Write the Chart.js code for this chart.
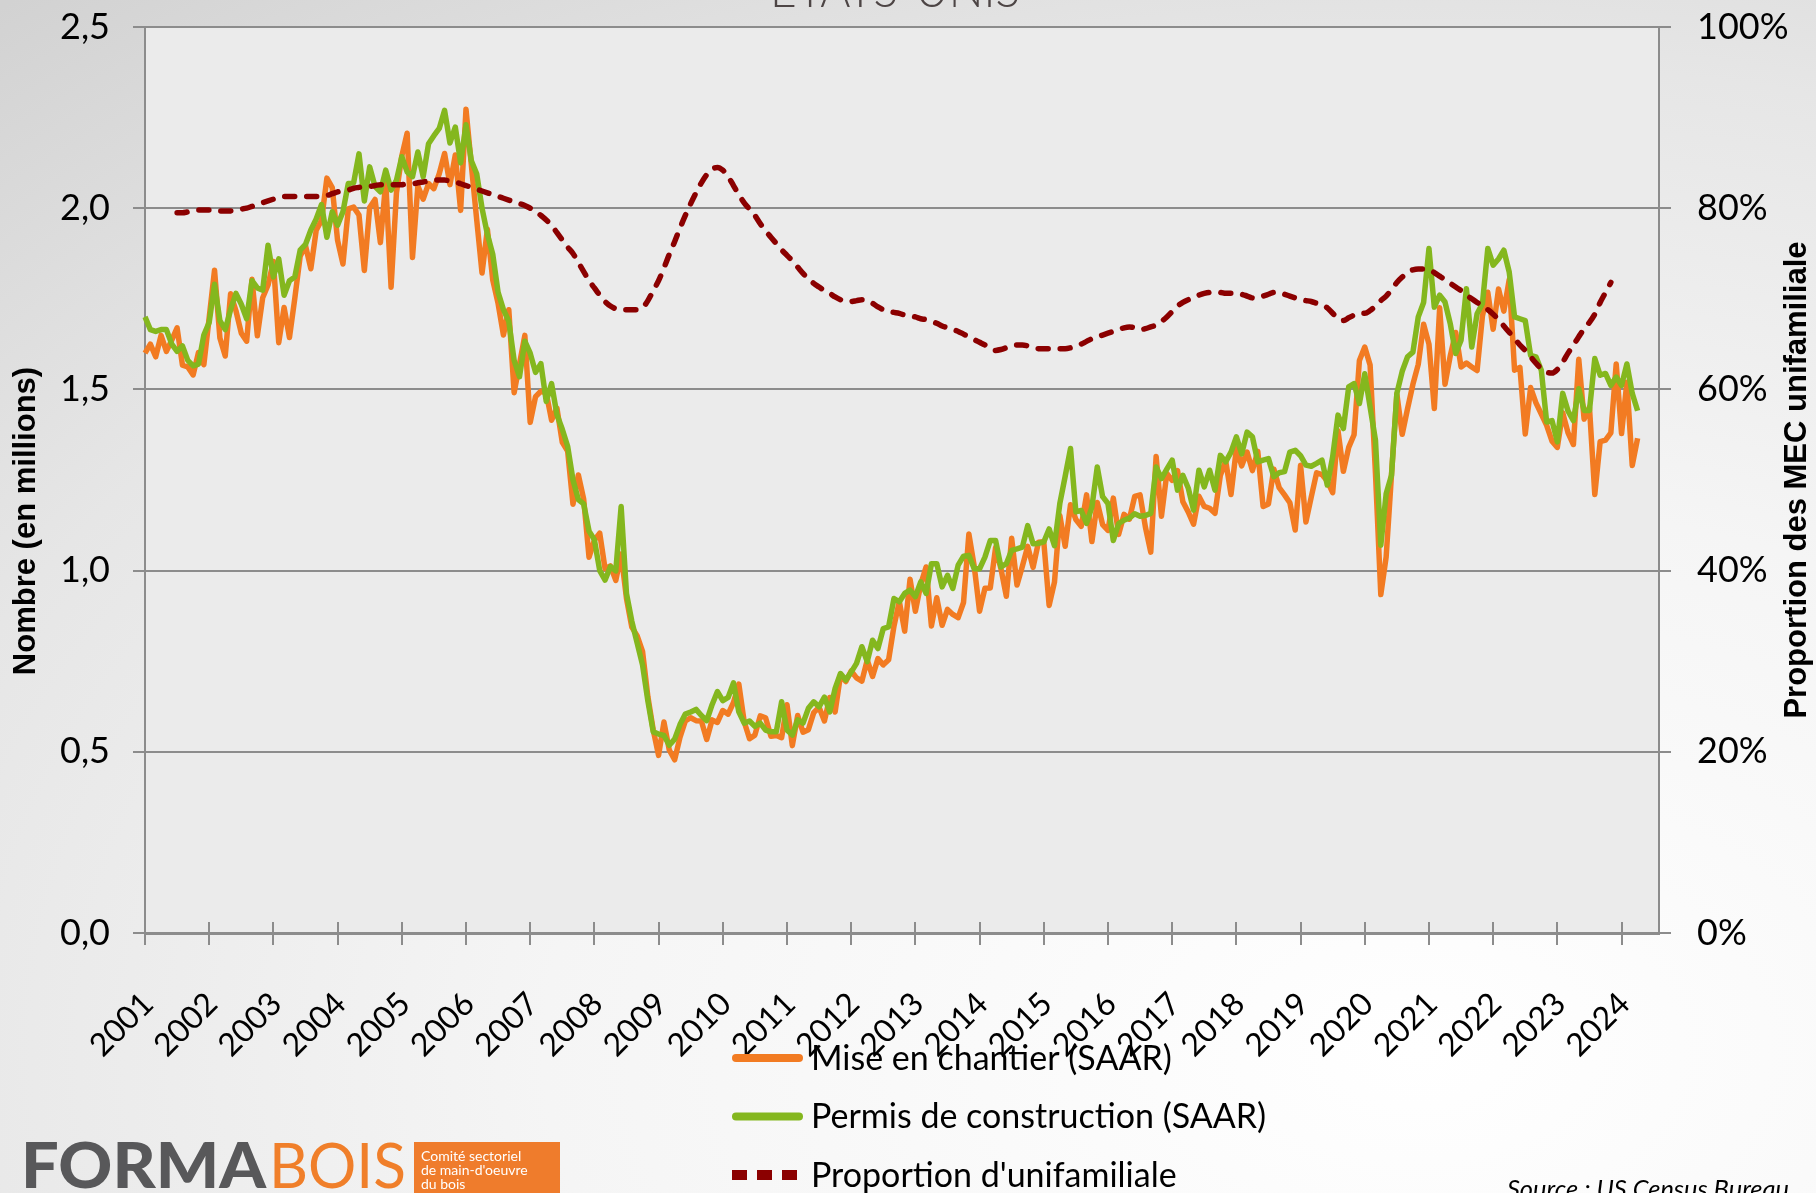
<!DOCTYPE html>
<html lang="fr">
<head>
<meta charset="UTF-8">
<title>États-Unis : mises en chantier et permis de construction</title>
<script src="https://cdn.jsdelivr.net/npm/chart.js"></script>
<style>
  html, body { margin: 0; padding: 0; overflow: hidden; }
  body {
    width: 1816px; height: 1193px;
    background: radial-gradient(ellipse 120% 115% at 78% 88%, #ffffff 0%, #f5f5f5 40%, #e6e6e6 72%, #d2d2d2 100%);
  }
  #chart { display: block; }
</style>
</head>
<body>
<canvas id="chart" width="1816" height="1193"></canvas>
<script>
// tick labels (one per year) - the axis runs from Jan 2001 to Aug 2024
const years = ['2001','2002','2003','2004','2005','2006','2007','2008','2009','2010','2011','2012',
               '2013','2014','2015','2016','2017','2018','2019','2020','2021','2022','2023','2024'];
const monthsOnAxis = 284;

// Mises en chantier, millions, SAAR (Jan 2001 - Apr 2024)
const starts = [
  1.600,1.625,1.590,1.649,1.605,1.636,1.670,1.567,1.562,1.540,1.602,1.568,
  1.698,1.829,1.642,1.592,1.764,1.717,1.655,1.633,1.804,1.648,1.753,1.788,
  1.853,1.629,1.726,1.643,1.751,1.867,1.897,1.833,1.939,1.967,2.083,2.057,
  1.911,1.846,1.998,2.003,1.981,1.828,2.002,2.024,1.905,2.072,1.782,2.042,
  2.144,2.207,1.864,2.061,2.025,2.068,2.054,2.095,2.151,2.065,2.147,1.994,
  2.273,2.119,1.969,1.821,1.942,1.802,1.737,1.650,1.720,1.491,1.570,1.649,
  1.409,1.480,1.495,1.490,1.415,1.448,1.354,1.330,1.183,1.264,1.197,1.037,
  1.084,1.103,1.005,1.013,0.973,1.046,0.923,0.844,0.820,0.777,0.652,0.560,
  0.490,0.582,0.505,0.478,0.540,0.585,0.594,0.586,0.585,0.534,0.588,0.581,
  0.614,0.604,0.636,0.687,0.583,0.536,0.546,0.599,0.594,0.543,0.545,0.539,
  0.630,0.517,0.600,0.554,0.561,0.608,0.623,0.585,0.650,0.610,0.711,0.694,
  0.723,0.704,0.695,0.753,0.708,0.757,0.740,0.754,0.847,0.915,0.833,0.976,
  0.888,0.962,1.010,0.847,0.925,0.849,0.893,0.879,0.870,0.912,1.101,1.012,
  0.888,0.951,0.952,1.064,1.005,0.929,1.089,0.960,1.012,1.067,1.009,1.078,
  1.080,0.904,0.968,1.152,1.067,1.182,1.141,1.122,1.209,1.080,1.188,1.127,
  1.111,1.200,1.100,1.155,1.142,1.205,1.209,1.120,1.051,1.315,1.150,1.268,
  1.249,1.276,1.190,1.162,1.128,1.205,1.177,1.172,1.158,1.262,1.303,1.210,
  1.336,1.289,1.327,1.276,1.329,1.177,1.184,1.280,1.229,1.209,1.187,1.112,
  1.291,1.134,1.203,1.270,1.265,1.247,1.215,1.386,1.274,1.340,1.375,1.580,
  1.617,1.567,1.269,0.934,1.038,1.265,1.487,1.376,1.447,1.514,1.569,1.680,
  1.625,1.447,1.725,1.514,1.594,1.657,1.562,1.573,1.562,1.552,1.703,1.768,
  1.666,1.777,1.716,1.803,1.553,1.561,1.377,1.505,1.463,1.432,1.401,1.357,
  1.340,1.436,1.380,1.348,1.583,1.418,1.451,1.210,1.356,1.360,1.380,1.570,
  1.378,1.520,1.290,1.365
];

// Permis de construction, millions, SAAR (Jan 2001 - Apr 2024)
const permits = [
  1.700,1.665,1.660,1.665,1.665,1.625,1.605,1.620,1.580,1.565,1.570,1.650,
  1.685,1.790,1.690,1.665,1.720,1.765,1.735,1.695,1.800,1.780,1.774,1.898,
  1.810,1.860,1.760,1.800,1.810,1.884,1.900,1.940,1.970,2.010,1.920,1.990,
  1.953,1.990,2.068,2.070,2.150,2.020,2.114,2.060,2.045,2.105,2.050,2.077,
  2.142,2.100,2.087,2.155,2.087,2.178,2.200,2.220,2.270,2.180,2.224,2.125,
  2.230,2.131,2.095,2.000,1.928,1.873,1.768,1.720,1.688,1.580,1.535,1.633,
  1.600,1.547,1.571,1.467,1.516,1.430,1.390,1.343,1.250,1.196,1.184,1.109,
  1.085,1.000,0.974,1.011,0.999,1.177,0.937,0.860,0.800,0.740,0.640,0.555,
  0.549,0.545,0.518,0.535,0.575,0.604,0.610,0.617,0.600,0.586,0.630,0.666,
  0.641,0.650,0.690,0.610,0.579,0.585,0.570,0.579,0.560,0.555,0.555,0.638,
  0.560,0.546,0.588,0.579,0.620,0.638,0.624,0.651,0.610,0.675,0.716,0.698,
  0.720,0.744,0.790,0.749,0.808,0.785,0.840,0.845,0.923,0.914,0.937,0.946,
  0.928,0.969,0.937,1.019,1.019,0.955,0.987,0.951,1.015,1.040,1.042,1.005,
  1.005,1.037,1.083,1.083,1.010,1.019,1.056,1.060,1.065,1.124,1.074,1.075,
  1.079,1.115,1.069,1.185,1.260,1.337,1.162,1.166,1.130,1.176,1.286,1.204,
  1.185,1.083,1.130,1.139,1.145,1.157,1.150,1.152,1.158,1.286,1.254,1.280,
  1.305,1.222,1.263,1.228,1.167,1.277,1.231,1.277,1.222,1.318,1.300,1.327,
  1.369,1.322,1.382,1.369,1.300,1.305,1.309,1.259,1.270,1.273,1.327,1.332,
  1.317,1.291,1.288,1.296,1.305,1.236,1.314,1.429,1.392,1.507,1.516,1.461,
  1.543,1.451,1.360,1.070,1.212,1.263,1.489,1.550,1.590,1.603,1.700,1.740,
  1.889,1.727,1.760,1.741,1.680,1.599,1.636,1.778,1.617,1.709,1.737,1.889,
  1.843,1.860,1.884,1.824,1.700,1.695,1.690,1.594,1.590,1.553,1.410,1.414,
  1.355,1.489,1.440,1.414,1.502,1.442,1.442,1.585,1.539,1.544,1.511,1.534,
  1.511,1.570,1.489,1.441
];

// Proportion d'unifamiliale (%), from Jul 2001 to Nov 2023
const propStart = 6;
const proportion = [
  79.5,79.5,79.6,79.7,79.8,79.8,79.8,79.7,79.7,79.7,79.7,79.8,
  79.9,80.0,80.2,80.4,80.6,80.8,81.0,81.2,81.3,81.3,81.3,81.3,
  81.3,81.3,81.3,81.3,81.4,81.6,81.8,81.9,82.0,82.2,82.3,82.4,
  82.4,82.5,82.6,82.6,82.6,82.6,82.6,82.7,82.7,82.8,82.9,83.0,
  83.1,83.1,83.1,83.0,82.9,82.7,82.5,82.3,82.1,81.9,81.7,81.5,
  81.3,81.1,80.9,80.7,80.5,80.3,80.0,79.7,79.2,78.7,78.1,77.3,
  76.5,75.7,75.0,74.0,73.0,72.0,71.2,70.4,69.7,69.2,68.9,68.8,
  68.8,68.8,68.8,69.0,69.8,70.9,72.0,73.4,74.9,76.3,77.8,79.2,
  80.5,81.7,82.8,83.7,84.3,84.5,84.2,83.5,82.5,81.5,80.6,79.9,
  79.2,78.3,77.5,76.8,76.1,75.4,74.8,74.2,73.5,72.8,72.2,71.7,
  71.3,70.9,70.6,70.2,69.9,69.7,69.7,69.8,69.9,69.8,69.5,69.1,
  68.8,68.6,68.5,68.4,68.2,68.1,68.0,67.8,67.7,67.5,67.3,67.0,
  66.8,66.6,66.4,66.1,65.8,65.5,65.2,64.9,64.5,64.3,64.4,64.6,
  64.8,64.9,64.9,64.8,64.6,64.5,64.5,64.5,64.5,64.5,64.5,64.6,
  64.8,65.0,65.3,65.6,65.8,66.0,66.2,66.4,66.6,66.8,66.9,66.8,
  66.6,66.7,66.9,67.1,67.5,68.0,68.6,69.2,69.6,69.9,70.1,70.4,
  70.6,70.7,70.7,70.7,70.6,70.6,70.6,70.5,70.3,70.1,70.1,70.3,
  70.5,70.7,70.7,70.5,70.3,70.1,69.9,69.8,69.7,69.5,69.3,69.0,
  68.4,67.8,67.6,67.9,68.2,68.4,68.4,68.7,69.2,69.8,70.3,71.0,
  71.8,72.4,72.9,73.2,73.3,73.3,73.2,72.9,72.5,72.1,71.7,71.3,
  70.9,70.4,70.0,69.6,69.2,68.8,68.3,67.7,67.0,66.3,65.6,64.9,
  64.3,63.6,62.9,62.3,61.9,61.8,62.2,63.0,64.0,64.9,65.8,66.7,
  67.4,68.3,69.6,70.7,71.8
];

// monthly categories built from the year labels
const labels = [];
years.forEach(y => {
  for (let m = 1; m <= 12 && labels.length < monthsOnAxis; m++) {
    labels.push(y + '-' + String(m).padStart(2, '0'));
  }
});
const propData = new Array(propStart).fill(null).concat(proportion);

const FONT = "Lato, 'Open Sans', sans-serif";
const GRID = '#8c8c8c';

// draw a text squeezed/stretched to a given width
function fitText(ctx, text, x, y, width) {
  const w = ctx.measureText(text).width;
  ctx.save();
  ctx.translate(x, y);
  ctx.scale(width / w, 1);
  ctx.fillText(text, 0, 0);
  ctx.restore();
}

// vertical axes: fixed width, no extra room above/below for the labels
function fixVertical(width) {
  return scale => {
    scale.width = width;
    scale.paddingTop = 0;
    scale.paddingBottom = 0;
  };
}

// grey plot area
const plotBg = {
  id: 'plotBg',
  beforeDraw(chart) {
    const {ctx, chartArea: a} = chart;
    ctx.save();
    ctx.fillStyle = '#ebebeb';
    ctx.fillRect(a.left, a.top, a.right - a.left, a.bottom - a.top);
    ctx.restore();
  }
};

// title, axis titles, legend, cross ticks, logo and source
const decorations = {
  id: 'decorations',
  afterDraw(chart) {
    const {ctx, chartArea: a} = chart;
    const xs = chart.scales.x;

    // tick marks crossing the x axis
    ctx.save();
    ctx.strokeStyle = GRID;
    ctx.lineWidth = 2;
    xs.ticks.forEach(t => {
      const px = Math.round(xs.getPixelForValue(t.value));
      ctx.beginPath();
      ctx.moveTo(px, a.bottom - 11);
      ctx.lineTo(px, a.bottom);
      ctx.stroke();
    });
    ctx.restore();

    // title, mostly cut by the top edge
    ctx.save();
    ctx.fillStyle = '#4d4545';
    ctx.font = '300 50px ' + FONT;
    ctx.textAlign = 'left';
    ctx.textBaseline = 'alphabetic';
    fitText(ctx, 'ÉTATS-UNIS', 770, 7, 250);
    ctx.restore();

    // axis titles
    ['Nombre (en millions)', 'Proportion des MEC unifamiliale'].forEach((txt, i) => {
      ctx.save();
      ctx.fillStyle = '#000';
      ctx.font = "bold 31px 'Liberation Sans', Arial, sans-serif";
      ctx.textAlign = 'center';
      ctx.textBaseline = 'middle';
      if (i === 0) ctx.translate(26, 521); else ctx.translate(1797, 480);
      ctx.rotate(-Math.PI / 2);
      ctx.fillText(txt, 0, 0);
      ctx.restore();
    });

    // legend, one item per row
    chart.data.datasets.forEach((ds, i) => {
      const y = 1058 + i * 58.5;
      ctx.save();
      ctx.strokeStyle = ds.borderColor;
      ctx.beginPath();
      if (ds.borderDash) {
        ctx.lineWidth = 10;
        ctx.lineCap = 'butt';
        ctx.setLineDash([15, 10]);
        ctx.moveTo(732, y);
        ctx.lineTo(797, y);
      } else {
        ctx.lineWidth = 8;
        ctx.lineCap = 'round';
        ctx.moveTo(736, y);
        ctx.lineTo(799, y);
      }
      ctx.stroke();
      ctx.setLineDash([]);
      ctx.fillStyle = '#000';
      ctx.font = '34px ' + FONT;
      ctx.textAlign = 'left';
      ctx.textBaseline = 'middle';
      ctx.fillText(ds.label, 811, y + 1);
      ctx.restore();
    });

    // logo
    ctx.save();
    ctx.textBaseline = 'alphabetic';
    ctx.textAlign = 'left';
    ctx.fillStyle = '#58585a';
    ctx.font = '900 62px ' + FONT;
    fitText(ctx, 'FORMA', 21, 1188, 245);
    ctx.fillStyle = '#f07f2a';
    ctx.font = '400 62px ' + FONT;
    fitText(ctx, 'BOIS', 269, 1188, 137);
    ctx.fillStyle = '#ef7c2c';
    ctx.fillRect(414, 1142, 146, 56);
    ctx.fillStyle = '#ffffff';
    ctx.font = '14px ' + FONT;
    ctx.fillText('Comité sectoriel', 421, 1161);
    ctx.fillText("de main-d'oeuvre", 421, 1175);
    ctx.fillText('du bois', 421, 1189);
    ctx.restore();

    // source
    ctx.save();
    ctx.fillStyle = '#000';
    ctx.font = 'italic 26px ' + FONT;
    ctx.textBaseline = 'alphabetic';
    fitText(ctx, 'Source : US Census Bureau', 1507, 1198, 282);
    ctx.restore();
  }
};

new Chart(document.getElementById('chart').getContext('2d'), {
  type: 'line',
  data: {
    labels: labels,
    datasets: [{
      label: 'Mise en chantier (SAAR)',
      data: starts,
      borderColor: '#f27b22',
      borderWidth: 5.5,
      pointRadius: 0,
      tension: 0,
      borderJoinStyle: 'round',
      yAxisID: 'y',
      order: 3
    }, {
      label: 'Permis de construction (SAAR)',
      data: permits,
      borderColor: '#84b71e',
      borderWidth: 5.5,
      pointRadius: 0,
      tension: 0,
      borderJoinStyle: 'round',
      yAxisID: 'y',
      order: 2
    }, {
      label: "Proportion d'unifamiliale",
      data: propData,
      borderColor: '#8b0000',
      borderWidth: 5.5,
      borderDash: [10, 12],
      borderCapStyle: 'round',
      pointRadius: 0,
      cubicInterpolationMode: 'monotone',
      yAxisID: 'y1',
      order: 1
    }]
  },
  options: {
    responsive: false,
    animation: false,
    layout: { padding: { top: 27, left: 0, right: 0, bottom: 0 } },
    plugins: {
      legend: { display: false },
      tooltip: { enabled: false }
    },
    scales: {
      x: {
        type: 'category',
        offset: false,
        grid: { drawOnChartArea: false, drawTicks: true, tickLength: 12, color: GRID, lineWidth: 2 },
        border: { color: GRID, width: 3 },
        ticks: {
          autoSkip: false,
          minRotation: 45,
          maxRotation: 45,
          padding: 40,
          labelOffset: 3,
          color: '#000',
          font: { family: FONT, size: 32 },
          callback: function (value) { return this.getLabelForValue(value).slice(0, 4); }
        },
        afterBuildTicks: scale => { scale.ticks = scale.ticks.filter(t => t.value % 12 === 0); },
        afterFit: scale => { scale.height = 260; }
      },
      y: {
        position: 'left',
        min: 0,
        max: 2.5,
        grid: { color: GRID, lineWidth: 2, tickLength: 12 },
        border: { color: GRID, width: 2 },
        ticks: {
          stepSize: 0.5,
          padding: 23,
          color: '#000',
          font: { family: FONT, size: 36 },
          callback: v => v.toFixed(1).replace('.', ',')
        },
        afterFit: fixVertical(145)
      },
      y1: {
        position: 'right',
        min: 0,
        max: 100,
        grid: { drawOnChartArea: false, color: GRID, lineWidth: 2, tickLength: 12 },
        border: { color: GRID, width: 2 },
        ticks: {
          stepSize: 20,
          padding: 26,
          color: '#000',
          font: { family: FONT, size: 36 },
          callback: v => v + '%'
        },
        afterFit: fixVertical(157)
      }
    }
  },
  plugins: [plotBg, decorations]
});
</script>
</body>
</html>
